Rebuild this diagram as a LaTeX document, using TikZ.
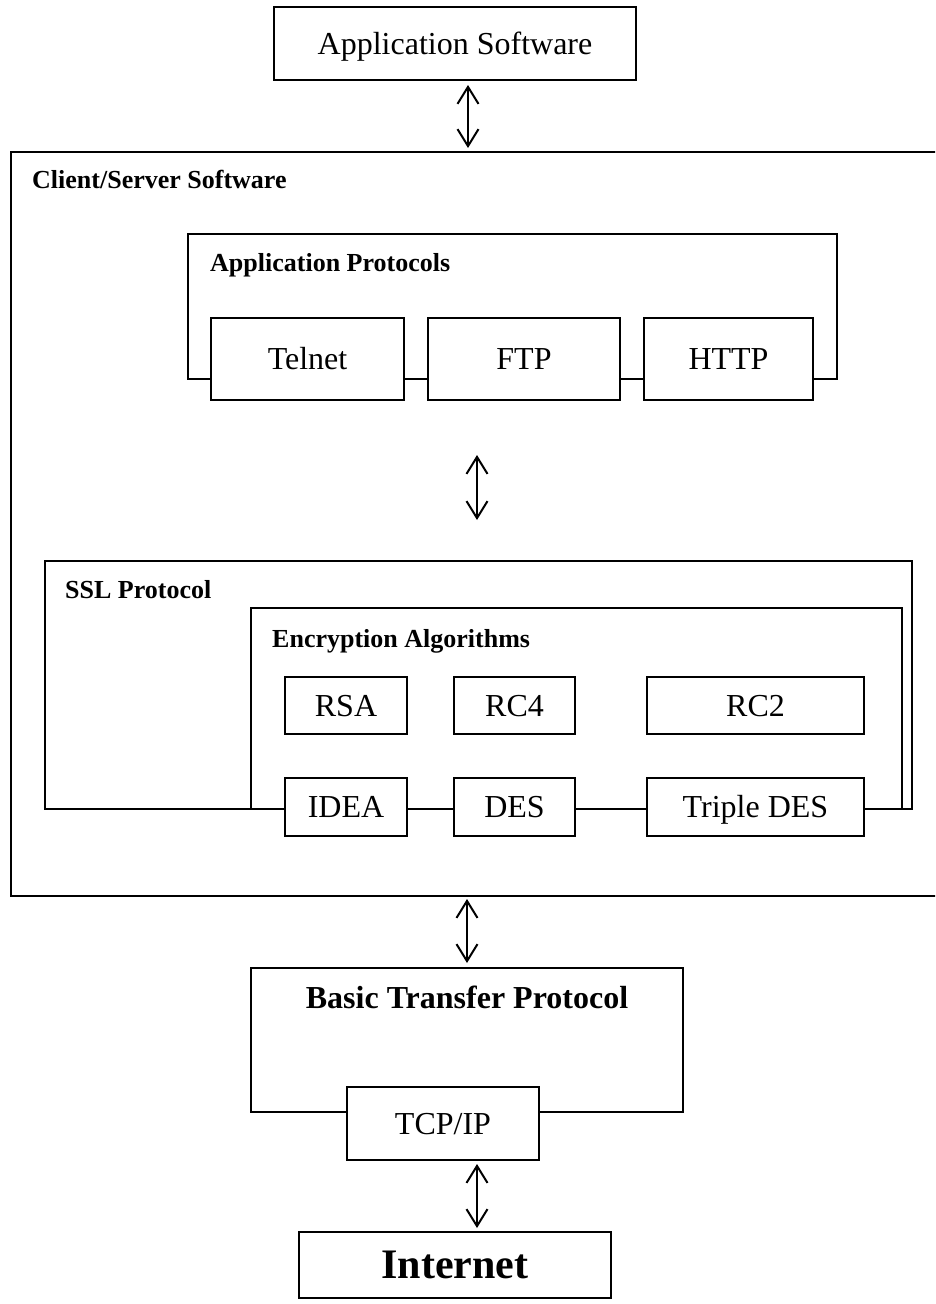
\documentclass[tikz,border=0pt]{standalone}
\usepackage{fontspec}
\setmainfont{Liberation Serif}
\usetikzlibrary{arrows.meta}
\begin{document}
\begin{tikzpicture}[x=1pt,y=-1pt,
  frame/.style={draw, line width=2pt, inner sep=0pt, outer sep=0pt, anchor=north west},
  box/.style={frame, fill=white, font=\fontsize{32}{38}\selectfont, text height=24pt, text depth=3pt},
  grouplabel/.style={anchor=base west, inner sep=0pt, font=\bfseries\fontsize{26}{30}\selectfont},
  biarrow/.style={line width=2pt, {Straight Barb[length=17pt,width=21pt]}-{Straight Barb[length=17pt,width=21pt]}}
]
\clip (0,0) rectangle (935,1304);
\fill[white] (0,0) rectangle (935,1304);

% application layer
\node[box, minimum width=362, minimum height=73] (appsw) at (274,7) {Application Software};

% client/server software
\node[frame, minimum width=934, minimum height=744] (client) at (11,152) {};
\node[grouplabel] (clientlbl) at (32,188) {Client/Server Software};

% application protocols
\node[frame, minimum width=649, minimum height=145] (apps) at (188,234) {};
\node[grouplabel] (appslbl) at (210,271) {Application Protocols};
\node[box, minimum width=193, minimum height=82] (telnet) at (211,318) {Telnet};
\node[box, minimum width=192, minimum height=82] (ftp) at (428,318) {FTP};
\node[box, minimum width=169, minimum height=82] (http) at (644,318) {HTTP};

% SSL protocol and encryption algorithms
\node[frame, minimum width=867, minimum height=248] (ssl) at (45,561) {};
\node[grouplabel] (ssllbl) at (65,598) {SSL Protocol};
\node[frame, minimum width=651, minimum height=201] (enc) at (251,608) {};
\node[grouplabel] (enclbl) at (272,647) {Encryption Algorithms};
\node[box, minimum width=122, minimum height=57] (rsa) at (285,677) {RSA};
\node[box, minimum width=121, minimum height=57] (rcfour) at (454,677) {RC4};
\node[box, minimum width=217, minimum height=57] (rctwo) at (647,677) {RC2};
\node[box, minimum width=122, minimum height=58] (idea) at (285,778) {IDEA};
\node[box, minimum width=121, minimum height=58] (des) at (454,778) {DES};
\node[box, minimum width=217, minimum height=58] (tdes) at (647,778) {Triple DES};

% basic transfer protocol
\node[frame, minimum width=432, minimum height=144] (btp) at (251,968) {};
\node[anchor=base, inner sep=0pt, font=\bfseries\fontsize{32}{38}\selectfont] (btplbl) at (467,1008) {Basic Transfer Protocol};
\node[box, minimum width=192, minimum height=73] (tcp) at (347,1087) {TCP/IP};

% internet
\node[frame, fill=white, minimum width=312, minimum height=66, font=\bfseries\fontsize{42}{48}\selectfont] (inet) at (299,1232) {Internet};

% connectors
\draw[biarrow, shorten <=5pt, shorten >=4pt] (appsw.south -| 468,0) -- (client.north -| 468,0);
\draw[biarrow, shorten <=76pt, shorten >=41pt] (apps.south -| 477,0) -- (ssl.north -| 477,0);
\draw[biarrow, shorten <=3pt, shorten >=5pt] (client.south -| 467,0) -- (btp.north -| 467,0);
\draw[biarrow, shorten <=4pt, shorten >=4pt] (tcp.south -| 477,0) -- (inet.north -| 477,0);
\end{tikzpicture}
\end{document}
